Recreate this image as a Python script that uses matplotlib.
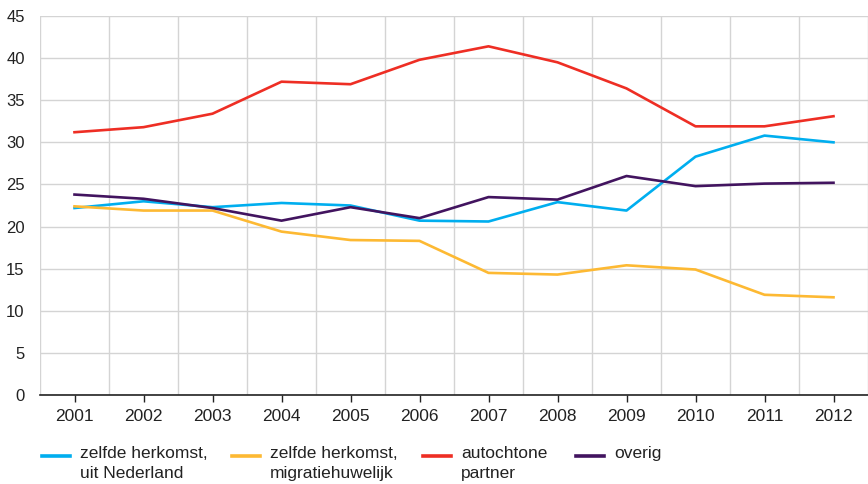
import matplotlib.pyplot as plt
from matplotlib.lines import Line2D
import numpy as np

plt.rcParams['font.family'] = ['Liberation Sans Narrow', 'Liberation Sans', 'DejaVu Sans']

# Data
years = np.arange(2001, 2013)
uit_nederland = [22.2, 23.0, 22.3, 22.8, 22.5, 20.7, 20.6, 22.9, 21.9, 28.3, 30.8, 30.0]
migratiehuwelijk = [22.4, 21.9, 21.9, 19.4, 18.4, 18.3, 14.5, 14.3, 15.4, 14.9, 11.9, 11.6]
autochtone_partner = [31.2, 31.8, 33.4, 37.2, 36.9, 39.8, 41.4, 39.5, 36.4, 31.9, 31.9, 33.1]
overig = [23.8, 23.3, 22.2, 20.7, 22.3, 21.0, 23.5, 23.2, 26.0, 24.8, 25.1, 25.2]
labels = ['zelfde herkomst,\nuit Nederland', 'zelfde herkomst,\nmigratiehuwelijk',
          'autochtone\npartner', 'overig']
colors = ['#00aeef', '#fdb933', '#ee2e24', '#42145f']

W, H = 868, 484
fig = plt.figure(figsize=(W / 100, H / 100), dpi=100)
ax = fig.add_axes([40 / W, 1 - 395 / H, 1 - 40 / W, (395 - 16) / H])

for vals, lab, col in zip([uit_nederland, migratiehuwelijk, autochtone_partner, overig], labels, colors):
    ax.plot(years, vals, color=col, lw=1.9, label=lab, zorder=3)

ax.set_xlim(2000.5, 2012.45)
ax.set_ylim(0, 45)
ax.set_yticks(np.arange(0, 46, 5))
ax.set_xticks(years)
ax.set_xticks(np.arange(2000.5, 2013, 1), minor=True)
ax.grid(True, which='minor', axis='x', color='#d4d4d4', lw=1)
ax.grid(True, which='major', axis='y', color='#d4d4d4', lw=1)
for s in ['top', 'right', 'left']:
    ax.spines[s].set_visible(False)
ax.spines['bottom'].set_color('#222222')
ax.spines['bottom'].set_linewidth(1.2)
ax.tick_params(axis='y', length=0, pad=11, labelsize=12, colors='#222222')
ax.tick_params(axis='x', which='major', length=5, width=1, color='#222222', pad=5,
               labelsize=12.5, labelcolor='#222222')
ax.tick_params(axis='x', which='minor', length=0)

# legend below the plot, handle aligned with first text line
handle_x = [42, 232, 423, 576]
row_y = 456
for hx, lab, col in zip(handle_x, labels, colors):
    fig.add_artist(Line2D([hx / W, (hx + 28) / W], [1 - row_y / H] * 2,
                          color=col, lw=2.6, transform=fig.transFigure))
    fig.text((hx + 38) / W, 1 - (row_y - 10) / H, lab, ha='left', va='top',
             fontsize=12.5, color='#222222', linespacing=1.4)

fig.savefig('out.png', dpi=100)
